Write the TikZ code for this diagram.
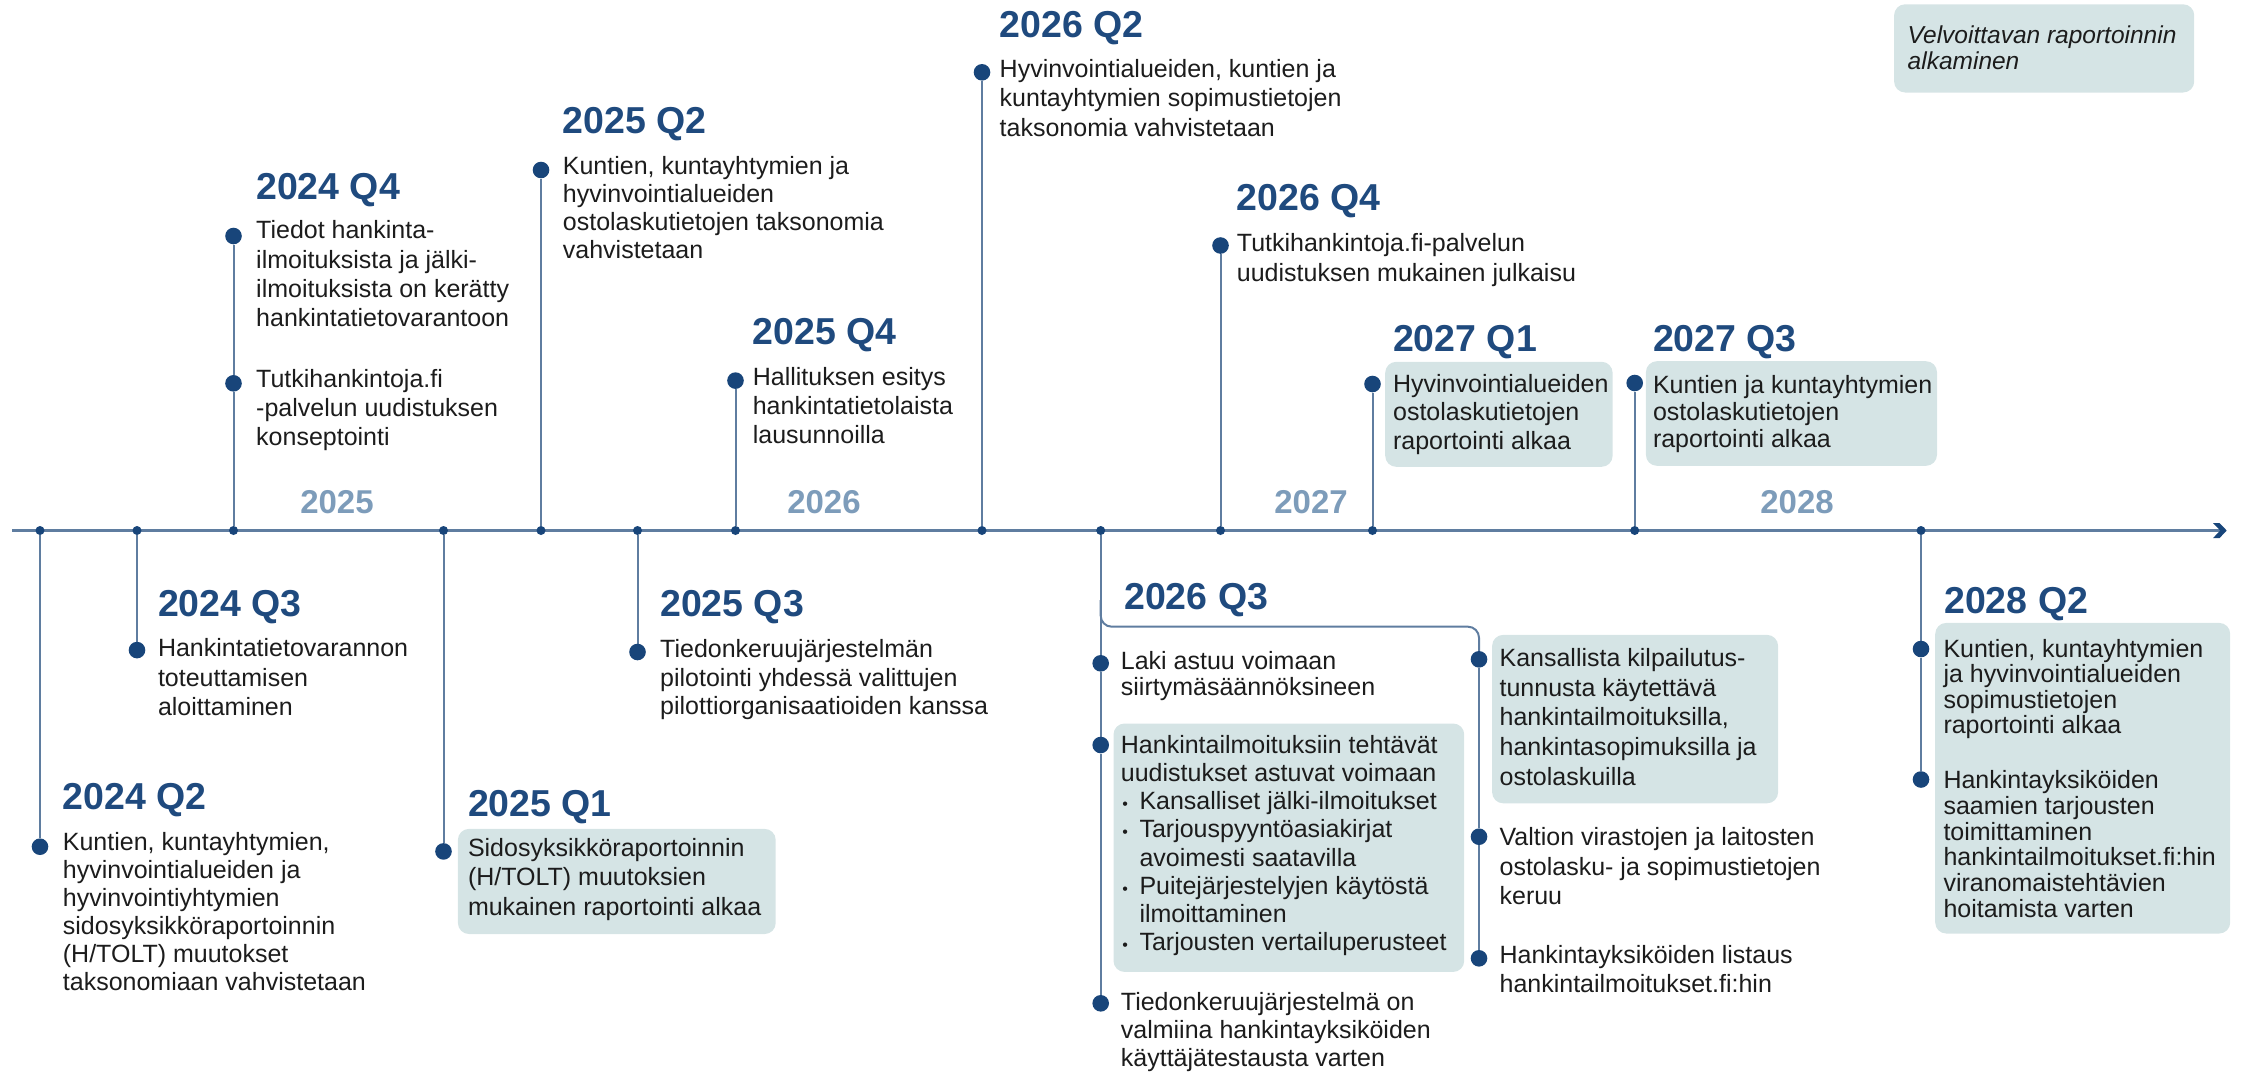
\documentclass[tikz,border=0pt]{standalone}
\usepackage{fontspec}
\setmainfont{Liberation Sans}
\usetikzlibrary{arrows.meta}
\definecolor{titlec}{RGB}{31,74,126}
\definecolor{dotc}{RGB}{24,69,122}
\definecolor{linec}{RGB}{95,125,160}
\definecolor{yearc}{RGB}{125,156,186}
\definecolor{boxc}{RGB}{213,228,229}
\definecolor{textc}{RGB}{28,28,28}
\pgfdeclarelayer{boxes}
\pgfdeclarelayer{bg}
\pgfsetlayers{boxes,bg,main}
\newcommand\bul{\makebox[18.6pt][l]{\hspace{1.5pt}{\fontsize{16}{16}\selectfont\textbullet}}}
\newcommand\bulind{\hspace*{18.6pt}}
\begin{document}
\begin{tikzpicture}[x=1pt,y=-1pt,
  bigdot/.style={circle, fill=dotc, inner sep=0pt, minimum size=16.6pt},
  tickdot/.style={circle, fill=dotc, inner sep=0pt, minimum size=9pt},
  conn/.style={draw=linec, line width=2pt},
  qtitle/.style={anchor=base west, inner sep=0pt, text=titlec, font=\bfseries\fontsize{37.5}{40}\selectfont},
  yearlbl/.style={anchor=base, inner sep=0pt, text=yearc, font=\bfseries\fontsize{33}{36}\selectfont},
  txt/.style={anchor=north west, inner sep=0pt, align=left, text=textc,
     font=\fontsize{25}{#1}\selectfont, yshift={0.7*#1pt},
     execute at begin node={\vrule height 0.7\baselineskip depth 0pt width 0pt\relax}},
  itxt/.style={txt=#1, font=\itshape\fontsize{24.5}{#1}\selectfont},
  box/.style={anchor=north west, fill=boxc, rounded corners=11pt, draw=none, inner sep=0pt}
]
\useasboundingbox (0,0) rectangle (2241,1074);

% ---------- boxes ----------
\begin{pgfonlayer}{boxes}
\node[box, minimum width=317.8pt, minimum height=105.1pt] (b25q1) at (457.7,828.7) {};
\node[box, minimum width=350.7pt, minimum height=248.4pt] (b26q3) at (1113.3,723.3) {};
\node[box, minimum width=286pt, minimum height=168.4pt] (b26q3r) at (1491.9,634.7) {};
\node[box, minimum width=227.4pt, minimum height=105pt] (b27q1) at (1385,361.6) {};
\node[box, minimum width=291.1pt, minimum height=104.6pt] (b27q3) at (1645.7,361) {};
\node[box, minimum width=295pt, minimum height=310.6pt] (b28q2) at (1935,622.7) {};
\node[box, minimum width=300.1pt, minimum height=88.2pt] (legend) at (1893.9,4.1) {};
\end{pgfonlayer}

% ---------- axis ----------
\coordinate (axs) at (12,530.5);
\coordinate (axe) at (2226.7,530.5);
\begin{pgfonlayer}{bg}
\draw[line width=3pt, linec] (axs) -- ([xshift=-5pt]axe);
\end{pgfonlayer}
\fill[dotc] (axe) -- ([shift={(-7.2,-7.4)}]axe) -- ([shift={(-13.7,-7.4)}]axe)
   -- ([shift={(-6.5,0)}]axe) -- ([shift={(-13.7,7.6)}]axe) -- ([shift={(-7.2,7.6)}]axe) -- cycle;

% ticks
\node[tickdot] (t1) at (40,530.5) {};
\node[tickdot] (t2) at (137,530.5) {};
\node[tickdot] (t3) at (233.5,530.5) {};
\node[tickdot] (t4) at (443.5,530.5) {};
\node[tickdot] (t5) at (541,530.5) {};
\node[tickdot] (t6) at (637.5,530.5) {};
\node[tickdot] (t7) at (735.5,530.5) {};
\node[tickdot] (t8) at (982,530.5) {};
\node[tickdot] (t9) at (1100.7,530.5) {};
\node[tickdot] (t10) at (1220.5,530.5) {};
\node[tickdot] (t11) at (1372.5,530.5) {};
\node[tickdot] (t12) at (1634.7,530.5) {};
\node[tickdot] (t13) at (1921,530.5) {};

% year labels
\node[yearlbl] (y2025) at (337,513) {2025};
\node[yearlbl] (y2026) at (824,513) {2026};
\node[yearlbl] (y2027) at (1311,513) {2027};
\node[yearlbl] (y2028) at (1797,513) {2028};

% ---------- big dots ----------
\node[bigdot] (d24q2) at (40,846.7) {};
\node[bigdot] (d24q3) at (137,650.1) {};
\node[bigdot] (d24q4a) at (233.5,236) {};
\node[bigdot] (d24q4b) at (233.5,383.3) {};
\node[bigdot] (d25q1) at (443.5,851.4) {};
\node[bigdot] (d25q2) at (541,170) {};
\node[bigdot] (d25q3) at (637.5,652) {};
\node[bigdot] (d25q4) at (735.5,380.6) {};
\node[bigdot] (d26q2) at (982,72.3) {};
\node[bigdot] (d26q3a) at (1100.7,663.3) {};
\node[bigdot] (d26q3b) at (1100.7,745) {};
\node[bigdot] (d26q3c) at (1100.7,1003.3) {};
\node[bigdot] (d26q3d) at (1479,659.3) {};
\node[bigdot] (d26q3e) at (1479,836.7) {};
\node[bigdot] (d26q3f) at (1479,958.3) {};
\node[bigdot] (d26q4) at (1220.5,245.5) {};
\node[bigdot] (d27q1) at (1372.5,384) {};
\node[bigdot] (d27q3) at (1634.7,383) {};
\node[bigdot] (d28q2a) at (1921,649) {};
\node[bigdot] (d28q2b) at (1921,779.5) {};

% ---------- connectors ----------
\coordinate (brs) at (1100.7,600);
\coordinate (brc) at (1479,626.7);
\begin{pgfonlayer}{bg}
\draw[conn] (t1) -- (d24q2);
\draw[conn] (t2) -- (d24q3);
\draw[conn] (t3) -- (d24q4b) -- (d24q4a);
\draw[conn] (t4) -- (d25q1);
\draw[conn] (t5) -- (d25q2);
\draw[conn] (t6) -- (d25q3);
\draw[conn] (t7) -- (d25q4);
\draw[conn] (t8) -- (d26q2);
\draw[conn] (t9) -- (d26q3a) -- (d26q3b) -- (d26q3c);
\draw[conn, rounded corners=11pt] (brs) |- (brc) -- (d26q3d);
\draw[conn] (d26q3d) -- (d26q3e) -- (d26q3f);
\draw[conn] (t10) -- (d26q4);
\draw[conn] (t11) -- (d27q1);
\draw[conn] (t12) -- (d27q3);
\draw[conn] (t13) -- (d28q2a) -- (d28q2b);
\end{pgfonlayer}

% ---------- titles ----------
\node[qtitle] (h24q2) at (62.7,809.3) {2024 Q2};
\node[qtitle] (h24q3) at (157.8,616.4) {2024 Q3};
\node[qtitle] (h24q4) at (256,199) {2024 Q4};
\node[qtitle] (h25q1) at (467.8,816.7) {2025 Q1};
\node[qtitle] (h25q2) at (562.7,133.3) {2025 Q2};
\node[qtitle] (h25q3) at (660,616) {2025 Q3};
\node[qtitle] (h25q4) at (752.6,344.4) {2025 Q4};
\node[qtitle] (h26q2) at (999.5,37.9) {2026 Q2};
\node[qtitle] (h26q3) at (1124,609.3) {2026 Q3};
\node[qtitle] (h26q4) at (1236.7,210.8) {2026 Q4};
\node[qtitle] (h27q1) at (1392.9,351.3) {2027 Q1};
\node[qtitle] (h27q3) at (1652.8,351.3) {2027 Q3};
\node[qtitle] (h28q2) at (1944,613.3) {2028 Q2};

% ---------- texts ----------
\node[txt=28] (x24q2) at (62.7,851.7) {Kuntien, kuntayhtymien,\\hyvinvointialueiden ja\\hyvinvointiyhtymien\\sidosyksikköraportoinnin\\(H/TOLT) muutokset\\taksonomiaan vahvistetaan};
\node[txt=29.5] (x24q3) at (157.8,659.2) {Hankintatietovarannon\\toteuttamisen\\aloittaminen};
\node[txt=29.3] (x24q4a) at (256,241) {Tiedot hankinta-\\ilmoituksista ja jälki-\\ilmoituksista on kerätty\\hankintatietovarantoon};
\node[txt=29.3] (x24q4b) at (256,389.2) {Tutkihankintoja.fi\\-palvelun uudistuksen\\konseptointi};
\node[txt=29.3] (x25q1) at (467.8,858.7) {Sidosyksikköraportoinnin\\(H/TOLT) muutoksien\\mukainen raportointi alkaa};
\node[txt=27.7] (x25q2) at (562.7,176) {Kuntien, kuntayhtymien ja\\hyvinvointialueiden\\ostolaskutietojen taksonomia\\vahvistetaan};
\node[txt=28.7] (x25q3) at (660,659.3) {Tiedonkeruujärjestelmän\\pilotointi yhdessä valittujen\\pilottiorganisaatioiden kanssa};
\node[txt=29] (x25q4) at (752.6,387.4) {Hallituksen esitys\\hankintatietolaista\\lausunnoilla};
\node[txt=29.5] (x26q2) at (999.5,79.5) {Hyvinvointialueiden, kuntien ja\\kuntayhtymien sopimustietojen\\taksonomia vahvistetaan};
\node[txt=25.7] (x26q3a) at (1120.7,669.3) {Laki astuu voimaan\\siirtymäsäännöksineen};
\node[txt=28.1] (x26q3b) at (1120.7,755) {Hankintailmoituksiin tehtävät\\uudistukset astuvat voimaan\\\bul Kansalliset jälki-ilmoitukset\\\bul Tarjouspyyntöasiakirjat\\\bulind avoimesti saatavilla\\\bul Puitejärjestelyjen käytöstä\\\bulind ilmoittaminen\\\bul Tarjousten vertailuperusteet};
\node[txt=28.3] (x26q3c) at (1120.7,1011.7) {Tiedonkeruujärjestelmä on\\valmiina hankintayksiköiden\\käyttäjätestausta varten};
\node[txt=29.7] (x26q3d) at (1499.4,669) {Kansallista kilpailutus-\\tunnusta käytettävä\\hankintailmoituksilla,\\hankintasopimuksilla ja\\ostolaskuilla};
\node[txt=29.7] (x26q3e) at (1499.4,847.8) {Valtion virastojen ja laitosten\\ostolasku- ja sopimustietojen\\keruu};
\node[txt=29.5] (x26q3f) at (1499.4,965.6) {Hankintayksiköiden listaus\\hankintailmoitukset.fi:hin};
\node[txt=29.5] (x26q4) at (1236.7,254) {Tutkihankintoja.fi-palvelun\\uudistuksen mukainen julkaisu};
\node[txt=28.5] (x27q1) at (1392.9,394) {Hyvinvointialueiden\\ostolaskutietojen\\raportointi alkaa};
\node[txt=26.7] (x27q3) at (1652.8,394) {Kuntien ja kuntayhtymien\\ostolaskutietojen\\raportointi alkaa};
\node[txt=25.6] (x28q2a) at (1943.3,656.7) {Kuntien, kuntayhtymien\\ja hyvinvointialueiden\\sopimustietojen\\raportointi alkaa};
\node[txt=25.8] (x28q2b) at (1943.3,788.3) {Hankintayksiköiden\\saamien tarjousten\\toimittaminen\\hankintailmoitukset.fi:hin\\viranomaistehtävien\\hoitamista varten};
\node[itxt=26.5] (xleg) at (1907.5,44) {Velvoittavan raportoinnin\\alkaminen};
\end{tikzpicture}
\end{document}
